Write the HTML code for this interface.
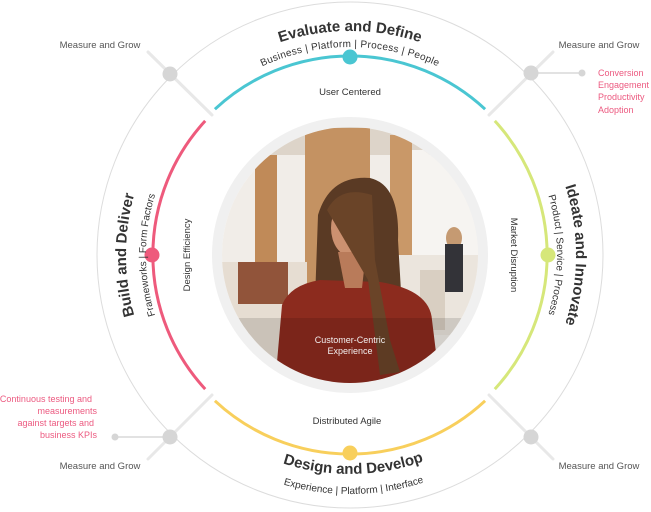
<!DOCTYPE html>
<html><head><meta charset="utf-8"><style>
html,body{margin:0;padding:0;background:#fff;}
svg{display:block;font-family:"Liberation Sans",Arial,sans-serif;}
</style></head><body>
<svg width="651" height="512" viewBox="0 0 651 512" xmlns="http://www.w3.org/2000/svg">
<defs>
<path id="tTitle" d="M 126 255 A 224 224 0 0 1 574 255"/>
<path id="tSub" d="M 142 255 A 208 208 0 0 1 558 255"/>
<path id="bTitle" d="M 131 255 A 219 219 0 0 0 569 255"/>
<path id="bSub" d="M 111 255 A 239 239 0 0 0 589 255"/>
<path id="lTitle" d="M 350 479 A 224 224 0 0 1 350 31"/>
<path id="lSub" d="M 350 459 A 204 204 0 0 1 350 51"/>
<path id="rTitle" d="M 350 29 A 226 226 0 0 1 350 481"/>
<path id="rSub" d="M 350 48 A 207 207 0 0 1 350 462"/>
<clipPath id="ph"><circle cx="350" cy="255" r="128"/></clipPath>
</defs>

<circle cx="350" cy="255" r="253" fill="none" stroke="#dcdcdc" stroke-width="1"/>

<g stroke="#e8e8e8" stroke-width="3" stroke-linecap="round">
<line x1="212" y1="115" x2="148" y2="52"/>
<line x1="489" y1="115" x2="553" y2="52"/>
<line x1="212" y1="395" x2="148" y2="459"/>
<line x1="489" y1="395" x2="553" y2="459"/>
</g>
<g stroke="#d8d8d8" stroke-width="1.5">
<line x1="531" y1="73" x2="582" y2="73"/>
<line x1="170" y1="437" x2="115" y2="437"/>
</g>
<g fill="#d6d6d6">
<circle cx="170" cy="74" r="7.5"/>
<circle cx="531" cy="73" r="7.5"/>
<circle cx="170" cy="437" r="7.5"/>
<circle cx="531" cy="437" r="7.5"/>
<circle cx="582" cy="73" r="3.5"/>
<circle cx="115" cy="437" r="3.5"/>
</g>

<g fill="none" stroke-width="3">
<path d="M 214.9 109.2 A 198 198 0 0 1 485.1 109.2" stroke="#4ac6d2"/>
<path d="M 494.8 120.9 A 198 198 0 0 1 494.8 389.1" stroke="#d6e77a"/>
<path d="M 485.1 400.8 A 198 198 0 0 1 214.9 400.8" stroke="#f8cf5c"/>
<path d="M 205.2 389.1 A 198 198 0 0 1 205.2 120.9" stroke="#ee5a7c"/>
</g>
<circle cx="350" cy="57" r="7.5" fill="#4ac6d2"/>
<circle cx="548" cy="255" r="7.5" fill="#d6e77a"/>
<circle cx="350" cy="453" r="7.5" fill="#f8cf5c"/>
<circle cx="152" cy="255" r="7.5" fill="#ee5a7c"/>

<g fill="#333" font-weight="bold" font-size="15">
<text><textPath href="#tTitle" startOffset="50%" text-anchor="middle">Evaluate and Define</textPath></text>
<text><textPath href="#bTitle" startOffset="50.5%" text-anchor="middle">Design and Develop</textPath></text>
<text><textPath href="#lTitle" startOffset="50%" text-anchor="middle">Build and Deliver</textPath></text>
<text><textPath href="#rTitle" startOffset="50%" text-anchor="middle">Ideate and Innovate</textPath></text>
</g>
<g fill="#333" font-size="10">
<text><textPath href="#tSub" startOffset="50%" text-anchor="middle" letter-spacing="0.3">Business  |  Platform  |  Process  |  People</textPath></text>
<text><textPath href="#bSub" startOffset="50.5%" text-anchor="middle">Experience  |  Platform  |  Interface</textPath></text>
<text><textPath href="#lSub" startOffset="50%" text-anchor="middle">Frameworks  |  Form Factors</textPath></text>
<text><textPath href="#rSub" startOffset="50%" text-anchor="middle">Product  |  Service  |  Process</textPath></text>
</g>

<g fill="#333" font-size="9.5" text-anchor="middle">
<text x="350" y="95">User Centered</text>
<text x="347" y="424">Distributed Agile</text>
<text transform="translate(190,255) rotate(-90)">Design Efficiency</text>
<text transform="translate(511,255) rotate(90)">Market Disruption</text>
</g>

<g fill="#555" font-size="9.5" text-anchor="middle">
<text x="100" y="48">Measure and Grow</text>
<text x="599" y="48">Measure and Grow</text>
<text x="100" y="469">Measure and Grow</text>
<text x="599" y="469">Measure and Grow</text>
</g>
<g fill="#ec5a80" font-size="9">
<text x="598" y="76">Conversion</text>
<text x="598" y="88">Engagement</text>
<text x="598" y="100">Productivity</text>
<text x="598" y="113">Adoption</text>
</g>
<g fill="#ec5a80" font-size="9" text-anchor="end">
<text x="92" y="402">Continuous testing and</text>
<text x="97" y="414">measurements</text>
<text x="94" y="426">against targets and</text>
<text x="97" y="438">business KPIs</text>
</g>

<circle cx="350" cy="255" r="133" fill="none" stroke="#f0f0f0" stroke-width="10"/>
<g clip-path="url(#ph)">
<rect x="220" y="125" width="260" height="260" fill="#f1ede8"/>
<rect x="220" y="125" width="260" height="30" fill="#ddd4c9"/>
<rect x="400" y="150" width="80" height="110" fill="#f6f4f1"/>
<rect x="305" y="128" width="65" height="230" fill="#c49262"/>
<rect x="255" y="155" width="22" height="150" fill="#c08a58"/>
<rect x="390" y="135" width="22" height="120" fill="#c99868"/>
<rect x="222" y="262" width="85" height="120" fill="#e6ddd2"/>
<rect x="238" y="262" width="50" height="42" fill="#91543a"/>
<rect x="400" y="255" width="80" height="80" fill="#ebe5dd"/>
<rect x="420" y="270" width="25" height="60" fill="#d9cfc2"/>
<ellipse cx="454" cy="238" rx="8" ry="11" fill="#c59a72"/>
<rect x="445" y="244" width="18" height="48" fill="#333338"/>
<path d="M 318 215 Q 330 175 370 178 Q 400 185 398 240 L 405 360 L 380 375 L 330 370 L 315 300 Z" fill="#5a3a24"/>
<path d="M 275 385 L 282 305 Q 290 285 320 280 L 380 282 Q 430 290 432 320 L 440 385 Z" fill="#8c2b1e"/>
<ellipse cx="352" cy="228" rx="21" ry="29" fill="#cc9170"/>
<path d="M 338 252 L 345 288 L 362 288 L 366 252 Z" fill="#b97b5a"/>
<path d="M 327 210 Q 340 185 372 195 L 375 260 L 390 340 L 400 372 L 380 375 L 368 280 Z" fill="#6a4428"/>
<rect x="220" y="318" width="260" height="70" fill="#000" opacity="0.12"/>
</g>
<g fill="#f2eeee" font-size="9" text-anchor="middle">
<text x="350" y="343">Customer-Centric</text>
<text x="350" y="354">Experience</text>
</g>
</svg>
</body></html>
